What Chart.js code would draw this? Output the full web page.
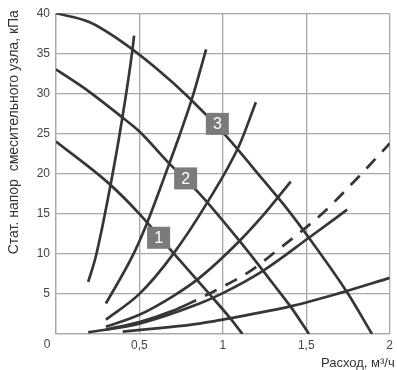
<!DOCTYPE html>
<html>
<head>
<meta charset="utf-8">
<script src="https://cdn.jsdelivr.net/npm/chart.js@4.4.0/dist/chart.umd.min.js"></script>
<style>
  html, body { margin: 0; padding: 0; background: #fff; }
</style>
</head>
<body>
<canvas id="chart" width="397" height="370"></canvas>
<script>
// --- data ---
// falling curves (1, 2, 3)
const curve1X = [0, 0.318, 0.497, 0.687, 0.919, 1.039, 1.118];
const curve1Y = [24, 18.75, 15.05, 10.5, 5.0, 2.1, 0];
const curve2X = [0, 0.2, 0.398, 0.497, 0.677, 0.86, 1.10, 1.3, 1.417, 1.516];
const curve2Y = [33, 30.2, 27.0, 25.3, 21.3, 17.5, 11.6, 6.3, 3.1, 0];
const curve3X = [0, 0.199, 0.398, 0.597, 0.796, 1.019, 1.238, 1.397, 1.516, 1.745, 1.894];
const curve3Y = [40, 38.9, 36.4, 33.2, 29.5, 24.7, 19.3, 15.3, 12.0, 5.2, 0];

// rising curves
const rise1X = [0.193, 0.239, 0.318, 0.398, 0.458, 0.468];
const rise1Y = [6.5, 9.7, 17.6, 27.0, 35.4, 37.2];
const rise2X = [0.299, 0.458, 0.541, 0.657, 0.746, 0.816, 0.9];
const rise2Y = [3.8, 9.7, 13.6, 20.0, 25.1, 29.4, 35.5];
const rise3X = [0.299, 0.5, 0.7, 0.91, 1.098, 1.198];
const rise3Y = [1.8, 5.0, 9.9, 16.5, 23.5, 28.9];
const rise4X = [0.299, 0.5, 0.7, 0.86, 1.1, 1.25, 1.407];
const rise4Y = [0.9, 2.4, 4.7, 7.0, 11.6, 15.0, 19.0];
const rise5X = [0.193, 0.5, 0.86, 1.0, 1.238, 1.516, 1.745];
const rise5Y = [0.2, 1.3, 3.8, 5.1, 7.85, 12.0, 15.5];
const rise6X = [0.40, 0.86, 1.0, 1.417, 1.7, 2.0];
const rise6Y = [0.3, 1.3, 1.8, 3.5, 5.1, 7.0];
// curve that turns dashed
const dashSolidX = [0.299, 0.5, 0.7, 0.84];
const dashSolidY = [0.55, 1.5, 2.9, 4.2];
const dashX = [0.84, 1.0, 1.168, 1.3, 1.6, 1.8, 2.0];
const dashY = [4.2, 5.9, 7.9, 10.0, 15.1, 19.3, 23.75];

// numbered boxes
const boxText = ['1', '2', '3'];
const boxX = [0.615, 0.777, 0.967];
const boxY = [12.0, 19.4, 26.2];

// axes
const xMin = 0, xMax = 2, xStep = 0.5;
const yMin = 0, yMax = 40, yStep = 5;
const xTitle = 'Расход, м³/ч';
const yTitle = 'Стат. напор  смесительного узла, кПа';

const FONT = "'Liberation Sans', Arial, sans-serif";
const LINE = '#363636';
const GRID = '#a8a8a8';

function pts(xs, ys) { return xs.map((x, i) => ({ x: x, y: ys[i] })); }

function lineSet(xs, ys, extra) {
    return Object.assign({
        data: pts(xs, ys),
        borderColor: LINE,
        borderWidth: 2.7,
        pointRadius: 0,
        fill: false,
        cubicInterpolationMode: 'monotone'
    }, extra || {});
}

const comma = v => String(v).replace('.', ',');

// boxes with numbers, the lone "0" in the corner, both axis titles
const extrasPlugin = {
    id: 'extras',
    afterDatasetsDraw(chart) {
        const ctx = chart.ctx, xs = chart.scales.x, ys = chart.scales.y;
        const area = chart.chartArea;
        ctx.save();
        for (let i = 0; i < boxText.length; i++) {
            const cx = xs.getPixelForValue(boxX[i]);
            const cy = ys.getPixelForValue(boxY[i]);
            ctx.fillStyle = '#7b7b7b';
            ctx.fillRect(cx - 11.5, cy - 11, 23, 22);
            ctx.fillStyle = '#fff';
            ctx.font = '16px ' + FONT;
            ctx.textAlign = 'center';
            ctx.textBaseline = 'middle';
            ctx.fillText(boxText[i], cx, cy + 1);
        }
        ctx.fillStyle = '#444';
        ctx.font = '12px ' + FONT;
        ctx.textAlign = 'center';
        ctx.textBaseline = 'middle';
        ctx.fillText('0', xs.getPixelForValue(xMin) - 9, ys.getPixelForValue(yMin) + 11);

        // x title, sticking out a bit past the right edge like the original
        ctx.fillStyle = '#333';
        ctx.font = '13px ' + FONT;
        ctx.textAlign = 'right';
        ctx.fillText(xTitle, area.right + 5, area.bottom + 29);

        // y title, a little above the middle
        ctx.translate(14, area.top + 119);
        ctx.rotate(-Math.PI / 2);
        ctx.textAlign = 'center';
        ctx.font = '14px ' + FONT;
        ctx.fillText(yTitle, 0, 0);
        ctx.restore();
    }
};

new Chart(document.getElementById('chart').getContext('2d'), {
    type: 'line',
    data: {
        datasets: [
            lineSet(curve1X, curve1Y),
            lineSet(curve2X, curve2Y),
            lineSet(curve3X, curve3Y),
            lineSet(rise1X, rise1Y),
            lineSet(rise2X, rise2Y),
            lineSet(rise3X, rise3Y),
            lineSet(rise4X, rise4Y),
            lineSet(rise5X, rise5Y),
            lineSet(rise6X, rise6Y),
            lineSet(dashSolidX, dashSolidY),
            lineSet(dashX, dashY, { borderDash: [13, 10], borderDashOffset: 13 })
        ]
    },
    options: {
        responsive: false,
        devicePixelRatio: 1,
        animation: false,
        layout: { padding: { top: 9, right: 6, left: 0, bottom: 0 } },
        plugins: { legend: { display: false }, tooltip: { enabled: false } },
        scales: {
            x: {
                type: 'linear', min: xMin, max: xMax,
                ticks: {
                    stepSize: xStep, padding: 4, color: '#444',
                    font: { family: FONT, size: 12 },
                    callback: v => v === 0 ? '' : comma(v)
                },
                grid: { color: GRID, lineWidth: 1.3, drawTicks: false },
                border: { color: GRID, width: 1.3 },
                title: { display: false },
                afterFit(scale) { scale.height = 36; }
            },
            y: {
                min: yMin, max: yMax,
                ticks: {
                    stepSize: yStep, padding: 6, color: '#444',
                    font: { family: FONT, size: 12 },
                    callback: v => v === 0 ? '' : comma(v)
                },
                grid: { color: GRID, lineWidth: 1.3, drawTicks: false },
                border: { color: GRID, width: 1.3 },
                title: { display: false },
                afterFit(scale) { scale.width = 56; }
            }
        }
    },
    plugins: [extrasPlugin]
});
</script>
</body>
</html>
